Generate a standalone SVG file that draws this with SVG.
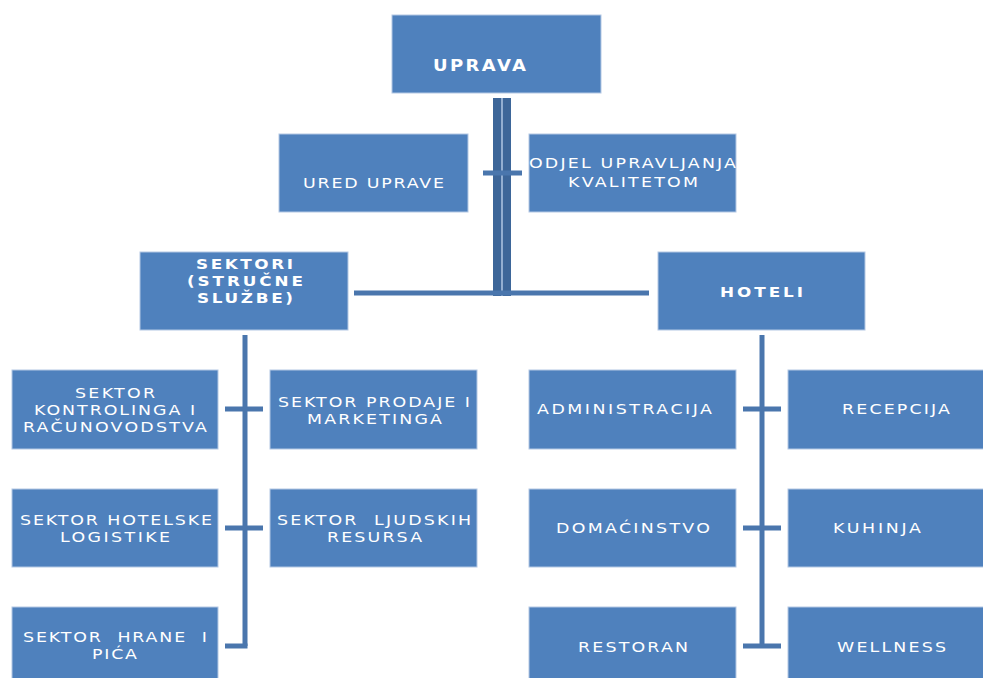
<svg xmlns="http://www.w3.org/2000/svg" width="983" height="678" viewBox="0 0 983 678">
<style>
.box{fill:#4f81bd;stroke:#b4c8e4;stroke-width:1}
.t{font-family:"DejaVu Sans","Liberation Sans",sans-serif;font-size:14.5px;fill:#ffffff}
.b{font-family:"DejaVu Sans","Liberation Sans",sans-serif;font-size:14px;font-weight:bold;fill:#ffffff}
.ln{stroke:#4a76ad;stroke-width:5;fill:none}
.dl{stroke:#3d6699;stroke-width:8;fill:none}
</style>
<rect width="983" height="678" fill="#ffffff"/>
<g id="connectors">
<line class="dl" x1="497" y1="98" x2="497" y2="296"/>
<line class="dl" x1="507" y1="98" x2="507" y2="296"/>
<line x1="502" y1="98" x2="502" y2="296" stroke="#6f93c2" stroke-width="1.5"/>
<line class="ln" x1="483" y1="173" x2="522" y2="173" stroke="#3d6699"/>
<line class="ln" x1="354" y1="293" x2="649" y2="293"/>
<line class="ln" x1="245" y1="335" x2="245" y2="646"/>
<line class="ln" x1="225" y1="409" x2="263" y2="409"/>
<line class="ln" x1="225" y1="528" x2="263" y2="528"/>
<line class="ln" x1="225" y1="646" x2="247.5" y2="646"/>
<line class="ln" x1="762" y1="335" x2="762" y2="646"/>
<line class="ln" x1="743" y1="409" x2="781" y2="409"/>
<line class="ln" x1="743" y1="528" x2="781" y2="528"/>
<line class="ln" x1="743" y1="646" x2="781" y2="646"/>
</g>
<g id="uprava"><rect class="box" x="392" y="15" width="209" height="78"/><text class="b" transform="translate(433 71) scale(1.2 1)" textLength="77.5" lengthAdjust="spacing" style="font-size:15px">UPRAVA</text></g>
<g id="ured"><rect class="box" x="279" y="134" width="189" height="78"/><text class="t" transform="translate(303 188) scale(1.2 1)" textLength="117.5" lengthAdjust="spacing">URED UPRAVE</text></g>
<g id="odjel"><rect class="box" x="529" y="134" width="207" height="78"/><text class="t" transform="translate(529 168) scale(1.2 1)" textLength="172.5" lengthAdjust="spacing">ODJEL UPRAVLJANJA</text><text class="t" transform="translate(568 187) scale(1.2 1)" textLength="108.3" lengthAdjust="spacing">KVALITETOM</text></g>
<g id="sektori"><rect class="box" x="140" y="252" width="208" height="78"/><text class="b" transform="translate(196 269) scale(1.2 1)" textLength="80.8" lengthAdjust="spacing">SEKTORI</text><text class="b" transform="translate(187 286) scale(1.2 1)" textLength="96.7" lengthAdjust="spacing">(STRUČNE</text><text class="b" transform="translate(197 303) scale(1.2 1)" textLength="80" lengthAdjust="spacing">SLUŽBE)</text></g>
<g id="hoteli"><rect class="box" x="658" y="252" width="207" height="78"/><text class="b" transform="translate(720 297) scale(1.2 1)" textLength="69.2" lengthAdjust="spacing">HOTELI</text></g>
<g id="kontrolinga"><rect class="box" x="12" y="370" width="206" height="79"/><text class="t" transform="translate(75 398) scale(1.2 1)" textLength="66.7" lengthAdjust="spacing">SEKTOR</text><text class="t" transform="translate(34 415) scale(1.2 1)" textLength="134.2" lengthAdjust="spacing">KONTROLINGA I</text><text class="t" transform="translate(23 432) scale(1.2 1)" textLength="153.3" lengthAdjust="spacing">RAČUNOVODSTVA</text></g>
<g id="prodaje"><rect class="box" x="270" y="370" width="207" height="79"/><text class="t" transform="translate(278 407) scale(1.2 1)" textLength="160" lengthAdjust="spacing">SEKTOR PRODAJE I</text><text class="t" transform="translate(307 424) scale(1.2 1)" textLength="112.5" lengthAdjust="spacing">MARKETINGA</text></g>
<g id="logistike"><rect class="box" x="12" y="489" width="206" height="78"/><text class="t" transform="translate(20 525) scale(1.2 1)" textLength="160" lengthAdjust="spacing">SEKTOR HOTELSKE</text><text class="t" transform="translate(60 542) scale(1.2 1)" textLength="91.7" lengthAdjust="spacing">LOGISTIKE</text></g>
<g id="ljudski"><rect class="box" x="270" y="489" width="207" height="78"/><text class="t" transform="translate(277 525) scale(1.2 1)" textLength="161.7" lengthAdjust="spacing" style="white-space:pre">SEKTOR  LJUDSKIH</text><text class="t" transform="translate(327 542) scale(1.2 1)" textLength="79.2" lengthAdjust="spacing">RESURSA</text></g>
<g id="hrana"><rect class="box" x="12" y="607" width="206" height="80"/><text class="t" transform="translate(23 642) scale(1.2 1)" textLength="153.3" lengthAdjust="spacing" style="white-space:pre">SEKTOR  HRANE  I</text><text class="t" transform="translate(92 659) scale(1.2 1)" textLength="37.5" lengthAdjust="spacing">PIĆA</text></g>
<g id="administracija"><rect class="box" x="529" y="370" width="207" height="79"/><text class="t" transform="translate(537 414) scale(1.2 1)" textLength="145.8" lengthAdjust="spacing">ADMINISTRACIJA</text></g>
<g id="recepcija"><rect class="box" x="788" y="370" width="196" height="79"/><text class="t" transform="translate(842 414) scale(1.2 1)" textLength="90" lengthAdjust="spacing">RECEPCIJA</text></g>
<g id="domacinstvo"><rect class="box" x="529" y="489" width="207" height="78"/><text class="t" transform="translate(556 533) scale(1.2 1)" textLength="128.3" lengthAdjust="spacing">DOMAĆINSTVO</text></g>
<g id="kuhinja"><rect class="box" x="788" y="489" width="196" height="78"/><text class="t" transform="translate(833 533) scale(1.2 1)" textLength="73.3" lengthAdjust="spacing">KUHINJA</text></g>
<g id="restoran"><rect class="box" x="529" y="607" width="207" height="80"/><text class="t" transform="translate(578 652) scale(1.2 1)" textLength="91.7" lengthAdjust="spacing">RESTORAN</text></g>
<g id="wellness"><rect class="box" x="788" y="607" width="196" height="80"/><text class="t" transform="translate(837 652) scale(1.2 1)" textLength="90.8" lengthAdjust="spacing">WELLNESS</text></g>
</svg>
